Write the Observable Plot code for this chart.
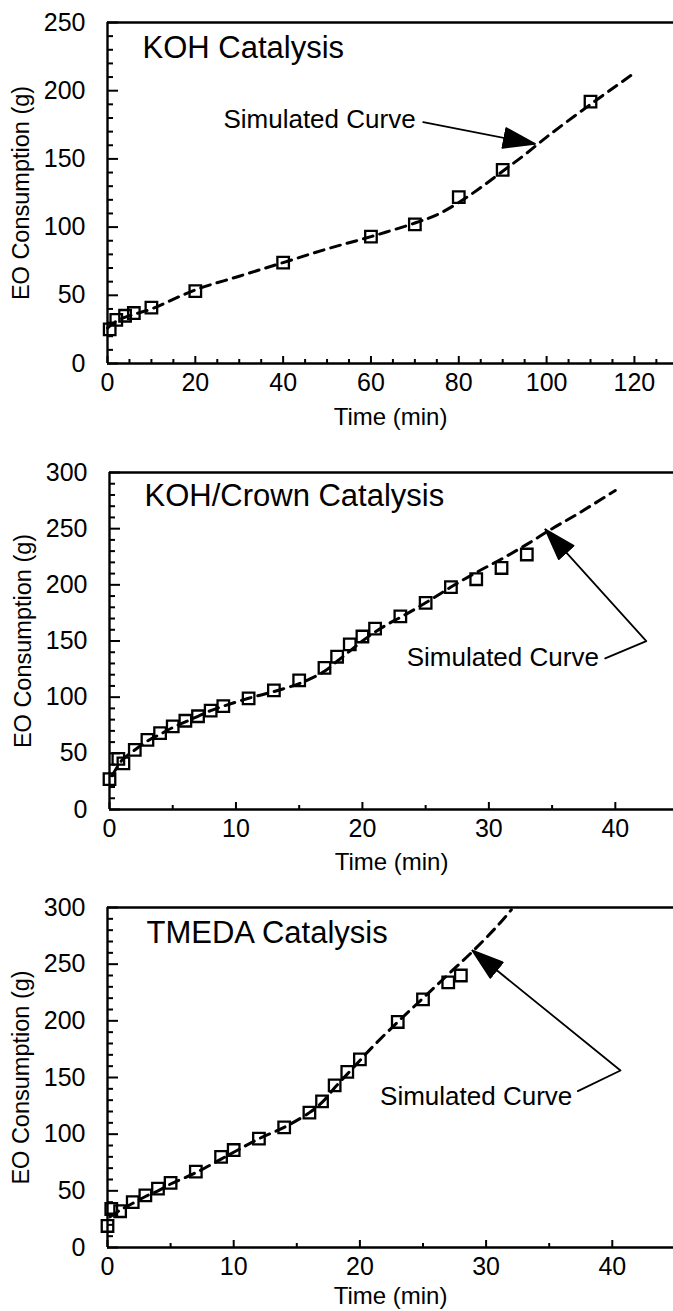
<!DOCTYPE html>
<html>
<head>
<meta charset="utf-8">
<script src="https://cdn.jsdelivr.net/npm/d3@7"></script>
<script src="https://cdn.jsdelivr.net/npm/@observablehq/plot@0.6"></script>
<style>
  html, body { margin: 0; padding: 0; background: #fff; }
  #chart svg { display: block; }
</style>
</head>
<body>
<div id="chart"></div>
<script>
// ---------- Panel 1: KOH Catalysis ----------
const kohTime = [0.5, 2, 4, 6, 10, 20, 40, 60, 70, 80, 90, 110];
const kohEO   = [25, 32, 35, 37, 41, 53, 74, 93, 102, 122, 142, 192];
const kohSimTime = [0, 2, 5, 10, 20, 30, 40, 50, 60, 70, 75, 80, 85, 90, 95, 100, 110, 120];
const kohSimEO   = [26, 31, 35, 40, 54, 64, 74, 84, 93, 103, 109, 118, 129, 141, 153, 166, 190, 213];

// ---------- Panel 2: KOH/Crown Catalysis ----------
const crownTime = [0, 0.7, 1.1, 2, 3, 4, 5, 6, 7, 8, 9, 11, 13, 15, 17, 18, 19, 20, 21, 23, 25, 27, 29, 31, 33];
const crownEO   = [27, 45, 41, 53, 62, 68, 74, 79, 83, 88, 92, 99, 106, 115, 126, 136, 147, 154, 161, 172, 184, 198, 205, 215, 227];
const crownSimTime = [0.2, 1, 2, 3, 4, 5, 6, 7, 8, 9, 11, 13, 15, 16, 17, 18, 19, 20, 21, 22, 23, 25, 27, 29, 31, 33, 35, 37, 40];
const crownSimEO   = [30, 44, 53, 61, 67, 73, 78, 83, 88, 92, 99, 105, 112, 117, 123, 132, 141, 150, 158, 165, 171, 184, 198, 211, 223, 236, 250, 263, 284];

// ---------- Panel 3: TMEDA Catalysis ----------
const tmedaTime = [0, 0.3, 1, 2, 3, 4, 5, 7, 9, 10, 12, 14, 16, 17, 18, 19, 20, 23, 25, 27, 28];
const tmedaEO   = [19, 34, 32, 40, 46, 52, 57, 67, 80, 86, 96, 106, 119, 129, 143, 155, 166, 199, 219, 234, 240];
const tmedaSimTime = [0.2, 1, 2, 3, 4, 5, 7, 9, 10, 12, 14, 16, 17, 18, 19, 20, 21, 23, 25, 27, 29, 31, 32];
const tmedaSimEO   = [27, 33, 39, 45, 50, 56, 66, 78, 84, 96, 106, 119, 128, 141, 153, 165, 177, 199, 220, 241, 262, 285, 298];

// ---------- Titles / labels ----------
const titles = ["KOH Catalysis", "KOH/Crown Catalysis", "TMEDA Catalysis"];
const xLabel = "Time (min)";
const yLabel = "EO Consumption (g)";
const annoText = "Simulated Curve";
// annotation text anchor (data units) and pointer polylines (data units)
const annoX = [26.4, 23.5, 21.6];
const annoY = [179, 135, 133];
const pointer1X = [71.9, 97.3];
const pointer1Y = [176.9, 161];
const pointer2X = [39.2, 42.45, 34.47];
const pointer2Y = [134.5, 149.9, 249.3];
const pointer3X = [37.27, 40.65, 28.92];
const pointer3Y = [138, 156.2, 262];

// ---------- Ticks ----------
const kohXTicks = [0, 20, 40, 60, 80, 100, 120];
const kohYTicks = [0, 50, 100, 150, 200, 250];
const minXTicks = [0, 10, 20, 30, 40];
const minYTicks = [0, 50, 100, 150, 200, 250, 300];

const FONT = "'Liberation Sans', Arial, Helvetica, sans-serif";
const SVGNS = "http://www.w3.org/2000/svg";

function filledArrow(len, half) {
  return (color) => {
    const m = document.createElementNS(SVGNS, "marker");
    m.setAttribute("viewBox", `${-len - 1} ${-half - 1} ${len + 2} ${2 * half + 2}`);
    m.setAttribute("markerWidth", len + 2);
    m.setAttribute("markerHeight", 2 * half + 2);
    m.setAttribute("markerUnits", "userSpaceOnUse");
    m.setAttribute("refX", 0);
    m.setAttribute("refY", 0);
    m.setAttribute("orient", "auto");
    const p = document.createElementNS(SVGNS, "path");
    p.setAttribute("d", `M0,0L${-len},${-half}L${-len},${half}Z`);
    p.setAttribute("fill", color);
    m.appendChild(p);
    return m;
  };
}

function panel(cfg) {
  const {height, mt, mb, ml, xDomain, yDomain, xMajor, xMinorStep, yMajor, yMinorStep,
         pts, sim, title, anno, pointer, titleDx, titleDy, xLabelDy} = cfg;
  const plotW = 673 - ml;
  const plotH = height - mt - mb;
  const xMinor = d3.range(0, xDomain[1], xMinorStep).filter(v => !xMajor.includes(v));
  const yMinor = d3.range(0, yDomain[1], yMinorStep).filter(v => !yMajor.includes(v));
  return Plot.plot({
    width: 673,
    height,
    marginLeft: ml,
    marginRight: 0,
    marginTop: mt,
    marginBottom: mb,
    x: {domain: xDomain, axis: null},
    y: {domain: yDomain, axis: null},
    style: {fontFamily: FONT, background: "#fff", color: "#000", overflow: "visible"},
    marks: [
      // tick marks pointing inward
      Plot.ruleY(yMajor, {insetRight: plotW - 11, stroke: "#000", strokeWidth: 2}),
      Plot.ruleY(yMinor, {insetRight: plotW - 6, stroke: "#000", strokeWidth: 2}),
      Plot.ruleX(xMajor, {insetTop: plotH - 7, stroke: "#000", strokeWidth: 2}),
      Plot.ruleX(xMinor, {insetTop: plotH - 4, stroke: "#000", strokeWidth: 2}),
      // frame (left, bottom, top)
      Plot.ruleX([0], {stroke: "#000", strokeWidth: 2.4}),
      Plot.ruleY([0], {stroke: "#000", strokeWidth: 2.4}),
      Plot.ruleY([yDomain[1]], {stroke: "#000", strokeWidth: 2.4}),
      // tick labels
      Plot.axisX({ticks: xMajor, tickSize: 0, tickPadding: 10, fontSize: 25, label: null, tickFormat: d => String(d)}),
      Plot.axisY({ticks: yMajor, tickSize: 0, tickPadding: 22, fontSize: 25, label: null, tickFormat: d => String(d)}),
      // axis titles
      Plot.text([xLabel], {frameAnchor: "bottom", dy: xLabelDy, lineAnchor: "middle", fontSize: 24, fill: "#000"}),
      Plot.text([yLabel], {frameAnchor: "left", dx: -86, rotate: -90, lineAnchor: "middle", textAnchor: "middle", fontSize: 23.5, fill: "#000"}),
      // panel title
      Plot.text([title], {frameAnchor: "top-left", dx: titleDx, dy: titleDy, lineAnchor: "top", textAnchor: "start", fontSize: 31, fill: "#000"}),
      // simulated curve
      Plot.line(sim.x.map((t, i) => ({t, v: sim.y[i]})), {
        x: "t", y: "v", stroke: "#000", strokeWidth: 3, strokeDasharray: "10,7", curve: "catmull-rom"
      }),
      // experimental points
      Plot.dot(pts.x.map((t, i) => ({t, v: pts.y[i]})), {
        x: "t", y: "v", symbol: "square", r: 6.5, stroke: "#000", strokeWidth: 2.3, fill: "none"
      }),
      // annotation
      Plot.text([anno], {x: "x", y: "y", text: "text", textAnchor: "start", lineAnchor: "middle", fontSize: 26, fill: "#000"}),
      Plot.line(pointer.x.map((t, i) => ({t, v: pointer.y[i]})), {
        x: "t", y: "v", stroke: "#000", strokeWidth: 1.8, markerEnd: filledArrow(31, 10)
      })
    ]
  });
}

const chart = document.getElementById("chart");

chart.appendChild(panel({
  height: 440, mt: 22, mb: 77, ml: 107,
  xDomain: [0, 128.9], yDomain: [0, 250],
  xMajor: kohXTicks, xMinorStep: 5, yMajor: kohYTicks, yMinorStep: 10,
  pts: {x: kohTime, y: kohEO}, sim: {x: kohSimTime, y: kohSimEO},
  title: titles[0], titleDx: 35, titleDy: 13, xLabelDy: 54,
  anno: {x: annoX[0], y: annoY[0], text: annoText},
  pointer: {x: pointer1X, y: pointer1Y}
}));

chart.appendChild(panel({
  height: 435, mt: 32, mb: 66, ml: 109,
  xDomain: [0, 44.6], yDomain: [0, 300],
  xMajor: minXTicks, xMinorStep: 5, yMajor: minYTicks, yMinorStep: 10,
  pts: {x: crownTime, y: crownEO}, sim: {x: crownSimTime, y: crownSimEO},
  title: titles[1], titleDx: 35, titleDy: 11, xLabelDy: 53,
  anno: {x: annoX[1], y: annoY[1], text: annoText},
  pointer: {x: pointer2X, y: pointer2Y}
}));

chart.appendChild(panel({
  height: 436, mt: 32, mb: 64, ml: 107,
  xDomain: [0, 44.85], yDomain: [0, 300],
  xMajor: minXTicks, xMinorStep: 5, yMajor: minYTicks, yMinorStep: 10,
  pts: {x: tmedaTime, y: tmedaEO}, sim: {x: tmedaSimTime, y: tmedaSimEO},
  title: titles[2], titleDx: 39, titleDy: 13, xLabelDy: 49,
  anno: {x: annoX[2], y: annoY[2], text: annoText},
  pointer: {x: pointer3X, y: pointer3Y}
}));
</script>
</body>
</html>
